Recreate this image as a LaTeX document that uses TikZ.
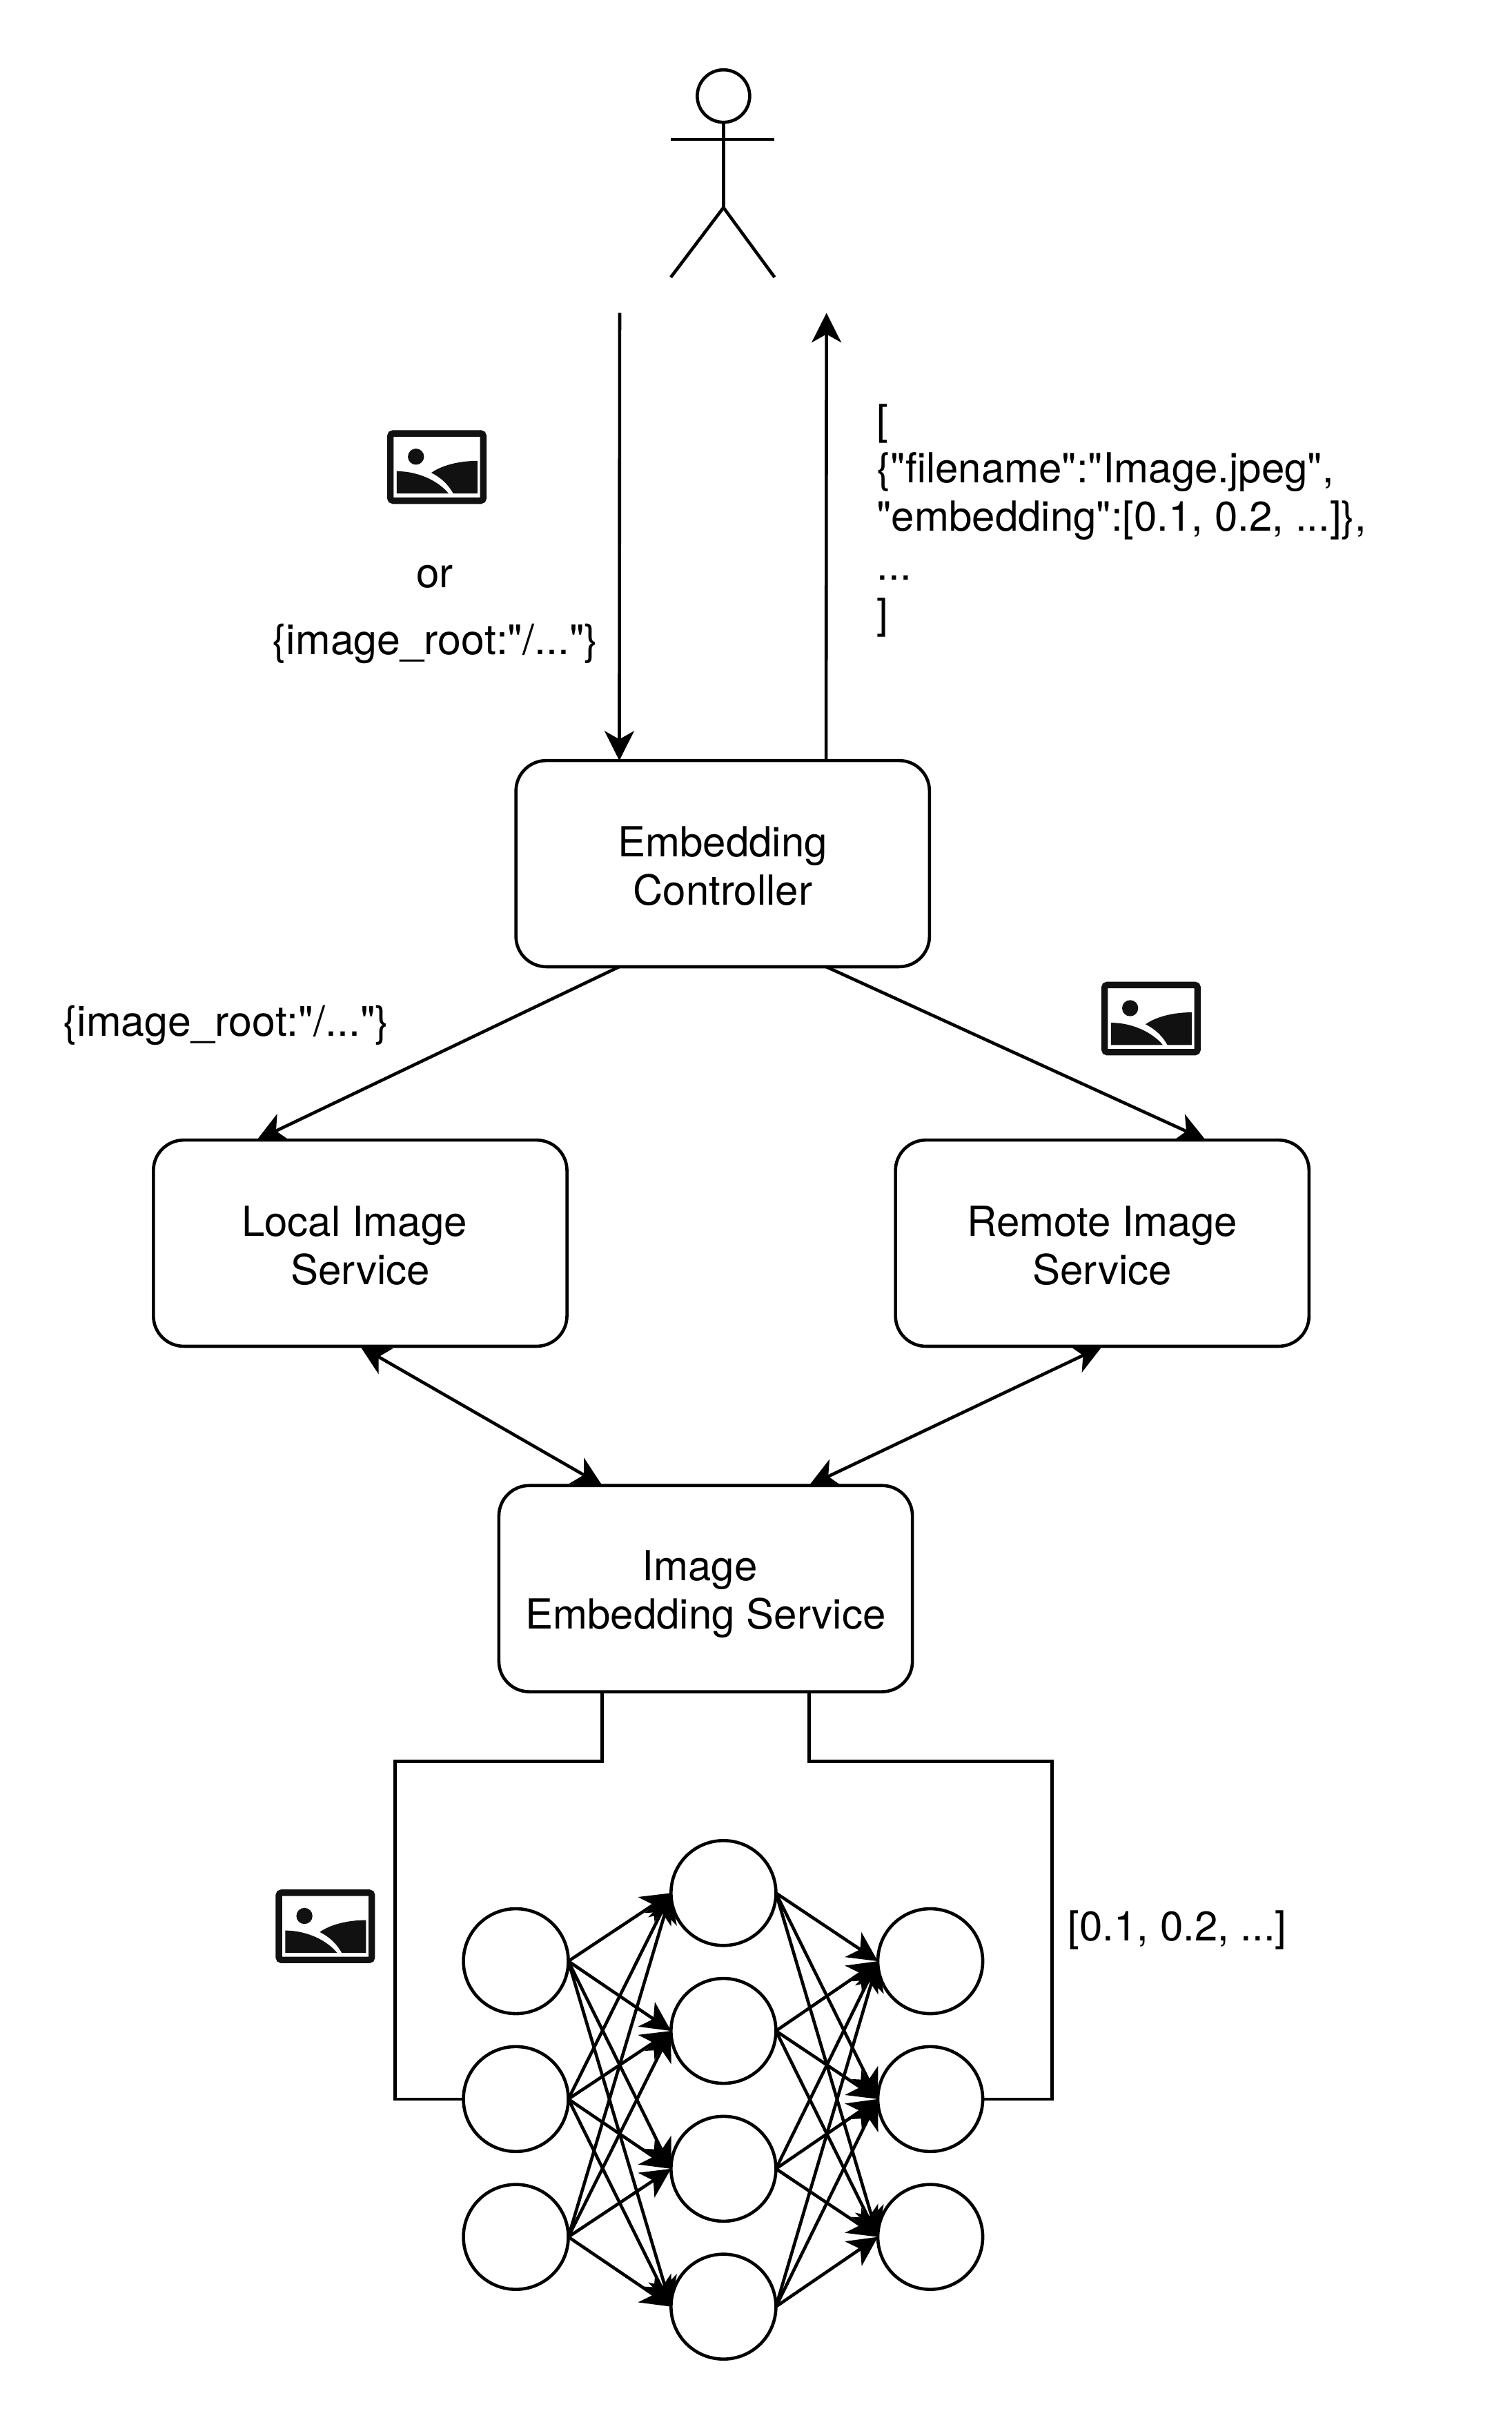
\documentclass[tikz,border=0pt]{standalone}
\usepackage{fontspec}
\newfontfamily\heros{TeX Gyre Heros}
\newfontfamily\herosflat[Kerning=Off]{TeX Gyre Heros}
\usetikzlibrary{positioning,calc,arrows.meta}
\definecolor{iconblack}{HTML}{111111}
\newcommand{\boxstrut}[1][12.6pt]{\rule{0pt}{#1}}

\tikzset{
  imgicon/.pic={
    \draw[iconblack,line width=2.35pt,rounded corners=1pt] (-30,-21.7) rectangle (30,21.7);
    \fill[iconblack] (-13.5,-6.7) circle (5.2);
    \fill[iconblack] (-25.9,2.7) .. controls (-12,2.7) and (1,9) .. (7.6,17.1) -- (-25.9,17.1) -- cycle;
    \fill[iconblack] (-3.6,3.7) .. controls (3,-1) and (14,-4) .. (26.2,-4) -- (26.2,17.1) -- (10.6,17.1)
      .. controls (7.5,11.5) and (3,7) .. (-3.6,3.7) -- cycle;
  }
}

\begin{document}
\begin{tikzpicture}[x=0.5612pt,y=-0.5612pt,line width=1.15pt,
    >={Stealth[length=10.7pt,width=10.7pt,inset=3pt]},
    service/.style={rectangle,draw,rounded corners=11pt,minimum width=149.8pt,minimum height=74.7pt,
      inner sep=0pt,outer sep=0pt,align=center,font=\heros\fontsize{15}{17.4}\selectfont},
    neuron/.style={circle,draw,minimum size=38pt,inner sep=0pt,outer sep=0pt},
    txt/.style={inner sep=0pt,font=\heros\fontsize{15}{17.6}\selectfont},
    roottxt/.style={inner sep=0pt,font=\herosflat\fontsize{15.2}{17.6}\selectfont}]

  \useasboundingbox (0,0) rectangle (975.7,1568);

  % the user
  \node[circle,draw,minimum size=19pt,inner sep=0pt,outer sep=0pt] (head) at (467,62) {};
  \coordinate (hip) at (467,134);
  \coordinate (handl) at (433,90);
  \coordinate (handr) at (500,90);
  \coordinate (footl) at (433,179);
  \coordinate (footr) at (500,179);
  \draw (head.south) -- (hip);
  \draw (handl) -- (handr);
  \draw (footl) -- (hip) -- (footr);

  % services
  \node[service] (ctrl) at (466.5,557.5) {\boxstrut Embedding\\Controller};
  \node[service] (local) at (232.5,802.5) {\boxstrut Local Image\hspace*{.278em}\\Service};
  \node[service] (remote) at (711.5,802.5) {\boxstrut Remote Image\\Service};
  \node[service] (emb) at (455.5,1025.5) {\boxstrut[14.9pt]Image\hspace*{.278em}\\Embedding Service};

  \coordinate (userout) at (400,202);
  \coordinate (userin) at (533.5,202);
  \coordinate (ctrlnl) at ($(ctrl.north west)!0.25!(ctrl.north east)$);
  \coordinate (ctrlnr) at ($(ctrl.north west)!0.75!(ctrl.north east)$);
  \coordinate (ctrlsl) at ($(ctrl.south west)!0.25!(ctrl.south east)$);
  \coordinate (ctrlsr) at ($(ctrl.south west)!0.75!(ctrl.south east)$);
  \coordinate (localn) at ($(local.north west)!0.25!(local.north east)$);
  \coordinate (remoten) at ($(remote.north west)!0.75!(remote.north east)$);
  \coordinate (embnl) at ($(emb.north west)!0.25!(emb.north east)$);
  \coordinate (embnr) at ($(emb.north west)!0.75!(emb.north east)$);
  \coordinate (embsl) at ($(emb.south west)!0.25!(emb.south east)$);
  \coordinate (embsr) at ($(emb.south west)!0.75!(emb.south east)$);

  \draw[->] (userout) -- (ctrlnl);
  \draw[->] (ctrlnr) -- (userin);
  \draw[->] (ctrlsl) -- (localn);
  \draw[->] (ctrlsr) -- (remoten);
  \draw[<->] (local.south) -- (embnl);
  \draw[<->] (remote.south) -- (embnr);

  % network
  \foreach \i/\y in {1/1266,2/1355,3/1444} {
    \node[neuron] (in\i) at (333,\y) {};
    \node[neuron] (out\i) at (600.5,\y) {};
  }
  \foreach \j/\y in {1/1222,2/1311,3/1400,4/1489}
    \node[neuron] (mid\j) at (467,\y) {};

  \foreach \j in {1,...,4} {
    \foreach \i in {1,2,3} {
      \draw[->] (in\i.east) -- (mid\j.west);
      \draw[->] (mid\j.east) -- (out\i.west);
    }
  }

  \coordinate (bendl) at (255,1137);
  \coordinate (bendr) at (679,1137);
  \draw (embsl) |- (bendl) |- (in2.west);
  \draw (embsr) |- (bendr) |- (out2.east);

  % labels
  \pic at (282,301.5) {imgicon};
  \pic at (743,657.5) {imgicon};
  \pic at (210,1243.5) {imgicon};
  \node[txt] (ortxt) at (280.5,372.5) {or};
  \node[roottxt] (roottop) at (281,415.5) {\{image\_root:"/..."\}};
  \node[roottxt] (rootleft) at (146,662) {\{image\_root:"/..."\}};
  \node[txt,align=left,anchor=west] (result) at (565,336)
    {[\\\{"filename":"Image.jpeg",\\"embedding":[0.1, 0.2, ...]\},\\...\\]};
  \node[txt] (vector) at (760,1246) {[0.1, 0.2, ...]};
\end{tikzpicture}
\end{document}
